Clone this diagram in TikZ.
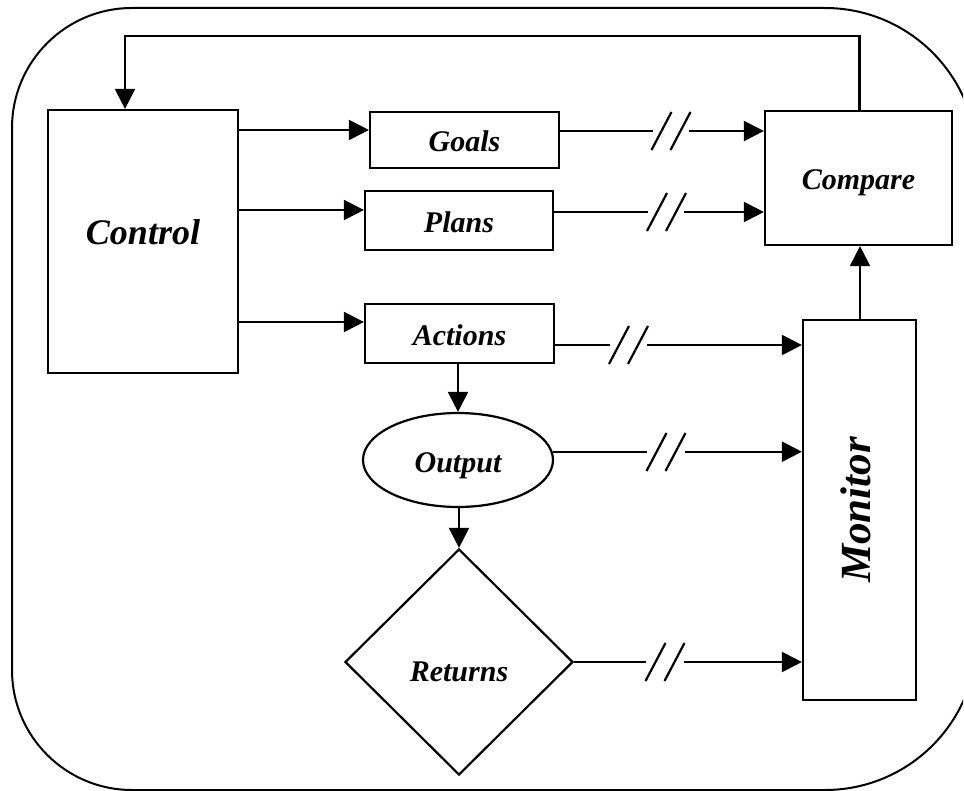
\documentclass[tikz,border=0pt]{standalone}
\usepackage{fontspec}
\setmainfont{Liberation Serif}
\usetikzlibrary{arrows.meta,shapes.geometric}
\begin{document}
\begin{tikzpicture}[x=1pt,y=-1pt,
  lw/.style={line width=2.2pt},
  box/.style={draw, lw, rectangle, inner sep=0pt},
  lab/.style={font=\fontsize{30}{36}\selectfont\bfseries\itshape, text height=24pt, text depth=0pt},
  arr/.style={lw, -{Triangle[length=20pt,width=20pt]}},
  brk/.pic={\draw[line width=2.2pt] (-19.5,19) -- (0.5,-19) (-0.5,19) -- (19.5,-19);}
]
\useasboundingbox (0,0) rectangle (964,791);
% outer frame (its right side runs off the picture)
\begin{scope}
\clip (0,0) rectangle (963,791);
\draw[line width=2pt] (132,8) -- (825,8) arc(-90:0:152) -- (977,638) arc(0:90:152)
  -- (132,790) arc(90:180:120) -- (12,128) arc(180:270:120) -- cycle;
\end{scope}

% nodes
\node[box, lab, font=\fontsize{36}{42}\selectfont\bfseries\itshape, text height=24pt, text depth=18pt,
      minimum width=190pt, minimum height=263pt] (control) at (143,241.5) {Control};
\node[box, lab, minimum width=189pt, minimum height=56pt] (goals) at (464.5,140) {Goals};
\node[box, lab, minimum width=188pt, minimum height=59pt] (plans) at (459,220.5) {Plans};
\node[box, lab, minimum width=189pt, minimum height=59pt] (actions) at (459.5,333.5) {Actions};
\node[box, lab, minimum width=187pt, minimum height=134pt] (compare) at (858.5,178) {Compare};
\node[box, minimum width=113pt, minimum height=380pt] (monitor) at (859.5,510) {};
\node[font=\fontsize{43}{50}\selectfont\bfseries\itshape, rotate=90] (monitorlabel) at (856,510) {Monitor};
\node[draw, lw, ellipse, lab, inner sep=0pt, minimum width=190pt, minimum height=94pt] (output) at (458,460) {Output};
\node[draw, lw, diamond, aspect=1, lab, text height=38pt, inner sep=0pt, minimum width=228pt, minimum height=226pt] (returns) at (459,662) {Returns};

% feedback loop
\draw[arr] (compare.north -| 859.5,0) -- (859.5,36) -| (control.north -| 125,0);

% control outputs
\draw[arr] (control.east |- 0,130) -- (goals.west |- 0,130);
\draw[arr] (control.east |- 0,210) -- (plans.west |- 0,210);
\draw[arr] (control.east |- 0,322) -- (actions.west |- 0,322);

% to compare
\draw[arr] (goals.east |- 0,131) -- (653,131) (689,131) -- (compare.west |- 0,131);
\pic at (671,131) {brk};
\draw[arr] (plans.east |- 0,212) -- (648,212) (684,212) -- (compare.west |- 0,212);
\pic at (666.5,212) {brk};

% to monitor
\draw[arr] (actions.east |- 0,345) -- (610,345) (647,345) -- (monitor.west |- 0,345);
\pic at (628.5,345) {brk};
\draw[arr] (output.5) -- (output.5 -| 647,0) (output.5 -| 685,0) -- (monitor.west |- output.5);
\pic at (666,452) {brk};
\draw[arr] (returns.east) -- (returns.east -| 646,0) (returns.east -| 684,0) -- (monitor.west |- returns.east);
\pic at (665,662) {brk};

% vertical flow
\draw[arr] (output.north |- actions.south) -- (output.north);
\draw[arr] (returns.north |- output.south) -- (returns.north);
\draw[arr] (monitor.north -| 860,0) -- (compare.south -| 860,0);
\end{tikzpicture}
\end{document}
